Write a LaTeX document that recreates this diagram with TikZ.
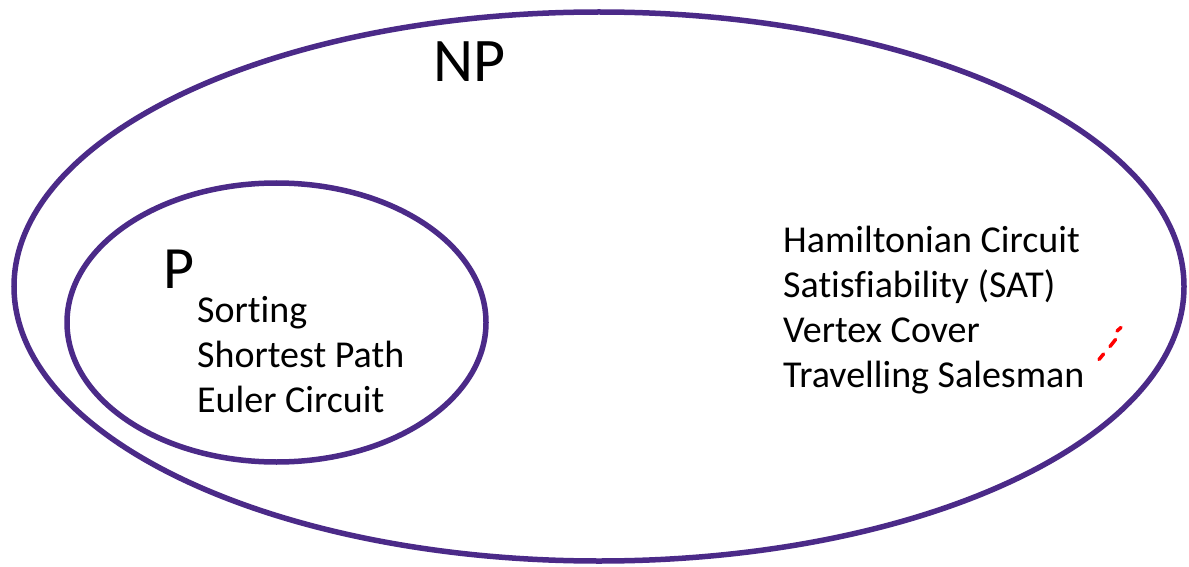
\documentclass[tikz,border=0pt]{standalone}
\usepackage{fontspec}
\setmainfont[Ligatures=NoCommon]{Carlito}
\definecolor{setpurple}{HTML}{4B2A88}
\begin{document}
\begin{tikzpicture}[x=1pt,y=-1pt,
  setring/.style={draw=setpurple,line width=5.5pt},
  biglabel/.style={inner sep=0pt,anchor=base west,font=\fontsize{62}{62}\selectfont},
  item/.style={inner sep=0pt,anchor=base west,font=\fontsize{38}{45}\selectfont}]
  \useasboundingbox (0,0) rectangle (1189,567);
  % the two nested classes
  \draw[setring] (599,286.5) ellipse [x radius=585,y radius=274.5];
  \draw[setring] (276.5,322.5) ellipse [x radius=209.5,y radius=139.5];
  % class names
  \node[biglabel] (np) at (433,82) {NP};
  \node[biglabel,font=\fontsize{60}{60}\selectfont] (p) at (163,288) {P};
  % problems in P
  \node[item] (sort) at (197,322) {Sorting};
  \node[item] (path) at (197,367) {Shortest Path};
  \node[item] (euler) at (197,412) {Euler Circuit};
  % problems in NP
  \node[item] (ham) at (783,252) {Hamiltonian Circuit};
  \node[item] (sat) at (783,297) {Satisfiability (SAT)};
  \node[item] (vc) at (783,342) {Vertex Cover};
  \node[item] (tsp) at (783,387) {Travelling Salesman};
  % small red stroke marks
  \foreach \a/\b in {{1099,359.5}/{1103.5,354},{1110,346.5}/{1115.5,339.5},{1117,331}/{1121,327.5}}
    \draw[red,line width=3.5pt,line cap=round] (\a) -- (\b);
\end{tikzpicture}
\end{document}
